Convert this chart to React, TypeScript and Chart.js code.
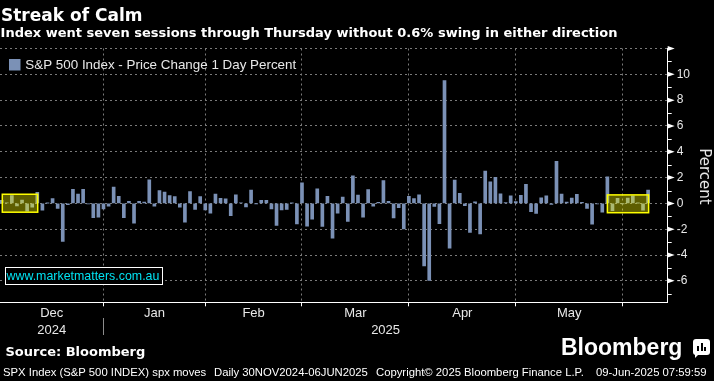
import React, { useEffect, useRef } from 'react';
import { Chart, registerables } from 'chart.js';

Chart.register(...registerables);

// ---- Data: S&P 500 daily % change, trading days 2 Dec 2024 – 6 Jun 2025 ----
const decDays = [2, 3, 4, 5, 6, 9, 10, 11, 12, 13, 16, 17, 18, 19, 20, 23, 24, 26, 27, 30, 31];
const decValues = [0.24, 0.05, 0.61, -0.19, 0.25, -0.61, -0.3, 0.85, -0.52, 0.01, 0.38, -0.38, -2.95, -0.09, 1.09, 0.73, 1.1, -0.04, -1.11, -1.07, -0.43];
const janDays = [2, 3, 6, 7, 8, 10, 13, 14, 15, 16, 17, 21, 22, 23, 24, 27, 28, 29, 30, 31];
const janValues = [-0.22, 1.26, 0.55, -1.11, 0.16, -1.54, 0.16, 0.11, 1.83, -0.21, 1.0, 0.88, 0.61, 0.53, -0.29, -1.46, 0.92, -0.47, 0.53, -0.5];
const febDays = [3, 4, 5, 6, 7, 10, 11, 12, 13, 14, 18, 19, 20, 21, 24, 25, 26, 27, 28];
const febValues = [-0.76, 0.72, 0.39, 0.36, -0.95, 0.67, 0.03, -0.27, 1.04, -0.01, 0.24, 0.24, -0.43, -1.71, -0.5, -0.47, 0.01, -1.59, 1.59];
const marDays = [3, 4, 5, 6, 7, 10, 11, 12, 13, 14, 17, 18, 19, 20, 21, 24, 25, 26, 27, 28, 31];
const marValues = [-1.76, -1.22, 1.12, -1.78, 0.55, -2.7, -0.76, 0.49, -1.39, 2.13, 0.64, -1.07, 1.08, -0.22, 0.08, 1.76, 0.16, -1.12, -0.33, -1.97, 0.55];
const aprDays = [1, 2, 3, 4, 7, 8, 9, 10, 11, 14, 15, 16, 17, 21, 22, 23, 24, 25, 28, 29, 30];
const aprValues = [0.38, 0.67, -4.84, -5.97, -0.23, -1.57, 9.52, -3.46, 1.81, 0.79, -0.17, -2.24, 0.13, -2.36, 2.51, 1.67, 2.03, 0.74, 0.06, 0.58, 0.15];
const mayDays = [1, 2, 5, 6, 7, 8, 9, 12, 13, 14, 15, 16, 19, 20, 21, 22, 23, 27, 28, 29, 30];
const mayValues = [0.63, 1.47, -0.64, -0.77, 0.43, 0.58, -0.07, 3.26, 0.72, 0.1, 0.41, 0.7, 0.09, -0.39, -1.61, -0.04, -0.67, 2.05, -0.56, 0.4, -0.01];
const junDays = [2, 3, 4, 5, 6];
const junValues = [0.41, 0.58, 0.01, -0.53, 1.03];

const monthNames = ['Dec', 'Jan', 'Feb', 'Mar', 'Apr', 'May', 'Jun'];
const yearNames = ['2024', '2025'];
const yTicks = [-6, -4, -2, 0, 2, 4, 6, 8, 10, 12];
const yMinorTicks = [-7, -5, -3, -1, 1, 3, 5, 7, 9, 11];
const legendLabel = 'S&P 500 Index - Price Change 1 Day Percent';

// highlighted calm streaks (index range, value range)
const streakBoxes = [
  { from: 0.12, to: 7.08, low: -0.68, high: 0.71 },
  { from: 119.0, to: 127.1, low: -0.72, high: 0.66 },
];

// ---- derived ----
const monthDays = [decDays, janDays, febDays, marDays, aprDays, mayDays, junDays];
const monthValues = [decValues, janValues, febValues, marValues, aprValues, mayValues, junValues];
const labels: string[] = [];
const values: number[] = [];
monthDays.forEach((days, m) => {
  days.forEach((d, j) => {
    labels.push(`${monthNames[m]} ${d}`);
    values.push(monthValues[m][j]);
  });
});
const monthEnds: number[] = [];
{
  let c = 0;
  monthDays.slice(0, -1).forEach((d) => {
    c += d.length;
    monthEnds.push(c - 1);
  });
}
const points = values.map((v, i) => ({ x: i, y: v }));

const X_MIN = -0.33;
const X_MAX = 130.85;
const Y_MIN = -7.66;
const Y_MAX = 12;

const BAR_COLOR = '#7b91b6';
const GRID_COLOR = '#7a7a7a';
const TEXT_COLOR = '#e8e8e8';

const overlayPlugin = {
  id: 'overlay',
  afterDatasetsDraw(chart: any) {
    const { ctx, scales } = chart;
    const x = scales.x;
    const y = scales.y;
    ctx.save();
    for (const b of streakBoxes) {
      const x1 = x.getPixelForValue(b.from);
      const x2 = x.getPixelForValue(b.to);
      const y1 = y.getPixelForValue(b.high);
      const y2 = y.getPixelForValue(b.low);
      ctx.fillStyle = 'rgba(255,255,0,0.37)';
      ctx.fillRect(x1, y1, x2 - x1, y2 - y1);
      ctx.strokeStyle = '#ffff00';
      ctx.lineWidth = 1.5;
      ctx.strokeRect(x1, y1, x2 - x1, y2 - y1);
    }
    ctx.restore();
  },
  afterDraw(chart: any) {
    const { ctx, scales, chartArea } = chart;
    const x = scales.x;
    const y = scales.y;
    const right = chartArea.right;
    ctx.save();

    // right-axis markers
    ctx.fillStyle = '#ffffff';
    for (const v of yTicks) {
      const py = y.getPixelForValue(v);
      ctx.beginPath();
      ctx.moveTo(right, py - 2.5);
      ctx.lineTo(right, py + 2.5);
      ctx.lineTo(right + 7, py);
      ctx.closePath();
      ctx.fill();
    }
    ctx.strokeStyle = '#ffffff';
    ctx.lineWidth = 1;
    for (const v of yMinorTicks) {
      const py = Math.round(y.getPixelForValue(v)) + 0.5;
      ctx.beginPath();
      ctx.moveTo(right, py);
      ctx.lineTo(right + 4, py);
      ctx.stroke();
    }

    // axis title
    ctx.save();
    ctx.translate(704.3, (chartArea.top + chartArea.bottom) / 2 + 1);
    ctx.rotate(Math.PI / 2);
    ctx.fillStyle = TEXT_COLOR;
    ctx.font = '15px "DejaVu Sans"';
    ctx.textAlign = 'center';
    ctx.textBaseline = 'middle';
    ctx.fillText('Percent', 0, 0);
    ctx.restore();

    // month labels
    ctx.fillStyle = TEXT_COLOR;
    ctx.font = '13px "Liberation Sans"';
    ctx.textAlign = 'center';
    ctx.textBaseline = 'alphabetic';
    const bounds = [X_MIN, ...monthEnds];
    for (let m = 0; m < monthEnds.length; m++) {
      const cx = (x.getPixelForValue(bounds[m]) + x.getPixelForValue(bounds[m + 1])) / 2;
      ctx.fillText(monthNames[m], cx, 317);
    }
    // year labels
    const yearBounds = [X_MIN, monthEnds[0], X_MAX];
    for (let k = 0; k < yearNames.length; k++) {
      const cx = (x.getPixelForValue(yearBounds[k]) + x.getPixelForValue(yearBounds[k + 1])) / 2;
      ctx.fillText(yearNames[k], cx, 333.5);
    }
    // year separator
    const sx = Math.round(x.getPixelForValue(monthEnds[0])) + 0.5;
    ctx.strokeStyle = '#8c8c8c';
    ctx.beginPath();
    ctx.moveTo(sx, 318);
    ctx.lineTo(sx, 335);
    ctx.stroke();

    // legend
    ctx.fillStyle = BAR_COLOR;
    ctx.fillRect(9, 59, 11.5, 11.5);
    ctx.fillStyle = TEXT_COLOR;
    ctx.textAlign = 'left';
    ctx.font = '13.4px "Liberation Sans"';
    ctx.fillText(legendLabel, 25.3, 69.3);

    ctx.restore();
  },
};

export default function App() {
  const canvasRef = useRef<HTMLCanvasElement>(null);

  useEffect(() => {
    const canvas = canvasRef.current;
    if (!canvas) return;
    const chart = new Chart(canvas, {
      type: 'bar',
      data: {
        labels,
        datasets: [
          {
            label: legendLabel,
            data: points as any,
            backgroundColor: BAR_COLOR,
            borderWidth: 0,
            barThickness: 3,
          },
        ],
      },
      options: {
        responsive: false,
        animation: false,
        devicePixelRatio: 1,
        layout: { padding: { left: 0, right: 0, top: 48.5, bottom: 74.7 } },
        plugins: { legend: { display: false }, tooltip: { enabled: false } },
        scales: {
          x: {
            type: 'linear',
            min: X_MIN,
            max: X_MAX,
            offset: false,
            afterBuildTicks: (s: any) => {
              s.ticks = monthEnds.map((v) => ({ value: v }));
            },
            afterFit: (s: any) => {
              s.height = 4;
            },
            ticks: { display: false },
            grid: {
              offset: false,
              color: GRID_COLOR,
              lineWidth: 1,
              drawTicks: true,
              tickLength: 4,
              tickColor: '#ffffff',
              tickWidth: 1,
              tickBorderDash: [],
            },
            border: { display: true, color: '#ffffff', width: 1, dash: [2, 3] },
          },
          y: {
            position: 'right',
            min: Y_MIN,
            max: Y_MAX,
            afterBuildTicks: (s: any) => {
              s.ticks = yTicks.map((v) => ({ value: v }));
            },
            afterFit: (s: any) => {
              s.width = 46.3;
            },
            ticks: {
              color: TEXT_COLOR,
              font: { family: '"Liberation Sans"', size: 12 },
              padding: 9,
              callback: (v: any) => (Number(v) === 12 ? '' : String(v)),
            },
            grid: { color: GRID_COLOR, lineWidth: 1, drawTicks: false },
            border: { display: true, color: '#ffffff', width: 1, dash: [2, 3] },
          },
        },
      },
      plugins: [overlayPlugin],
    });
    return () => chart.destroy();
  }, []);

  const abs = (extra: React.CSSProperties): React.CSSProperties => ({
    position: 'absolute',
    whiteSpace: 'nowrap',
    color: '#ffffff',
    margin: 0,
    ...extra,
  });

  return (
    <div
      style={{
        position: 'fixed',
        left: 0,
        top: 0,
        width: 714,
        height: 381,
        background: '#000',
        overflow: 'hidden',
      }}
    >
      <canvas ref={canvasRef} width={714} height={381} style={{ position: 'absolute', left: 0, top: 0 }} />
      <div style={abs({ left: 1, top: 6.6, font: 'bold 17px "DejaVu Sans"', lineHeight: '17px' })}>Streak of Calm</div>
      <div style={abs({ left: 0.6, top: 26.3, font: 'bold 13px "DejaVu Sans"', lineHeight: '13px' })}>
        Index went seven sessions through Thursday without 0.6% swing in either direction
      </div>
      <div
        style={abs({
          left: 5,
          top: 266.5,
          width: 157.7,
          height: 18.5,
          border: '1px solid #ffffff',
          boxSizing: 'border-box',
          background: '#000',
        })}
      />
      <div style={abs({ left: 6.5, top: 270, font: '12.4px "Liberation Sans"', lineHeight: '12.4px', color: '#00e2f2' })}>
        www.marketmatters.com.au
      </div>
      <div style={abs({ left: 5.5, top: 344.7, font: 'bold 13px "DejaVu Sans"', lineHeight: '13px' })}>Source: Bloomberg</div>
      <div style={abs({ left: 561, top: 336.2, font: 'bold 23px "Liberation Sans"', lineHeight: '23px' })}>Bloomberg</div>
      <div style={abs({ left: 693, top: 339, width: 17, height: 16, background: '#fff', borderRadius: 3 })}>
        <div style={{ position: 'absolute', left: 4, top: 7, width: 2, height: 5, background: '#000' }} />
        <div style={{ position: 'absolute', left: 7.5, top: 4, width: 2, height: 8, background: '#000' }} />
        <div style={{ position: 'absolute', left: 11, top: 8, width: 2, height: 4, background: '#000' }} />
      </div>
      <div
        style={{
          position: 'absolute',
          left: 695,
          top: 354,
          width: 0,
          height: 0,
          borderLeft: '4px solid #fff',
          borderBottom: '4px solid transparent',
        }}
      />
      <div style={abs({ left: 3, top: 367.1, font: '11.3px "Liberation Sans"', lineHeight: '11.3px' })}>
        SPX Index (S&amp;P 500 INDEX) spx moves
      </div>
      <div style={abs({ left: 214, top: 367.1, font: '11.3px "Liberation Sans"', lineHeight: '11.3px' })}>
        Daily 30NOV2024-06JUN2025
      </div>
      <div style={abs({ left: 376, top: 367.1, font: '11.3px "Liberation Sans"', lineHeight: '11.3px' })}>
        Copyright© 2025 Bloomberg Finance L.P.
      </div>
      <div style={abs({ left: 596, top: 367.1, font: '11.3px "Liberation Sans"', lineHeight: '11.3px' })}>
        09-Jun-2025 07:59:59
      </div>
    </div>
  );
}
